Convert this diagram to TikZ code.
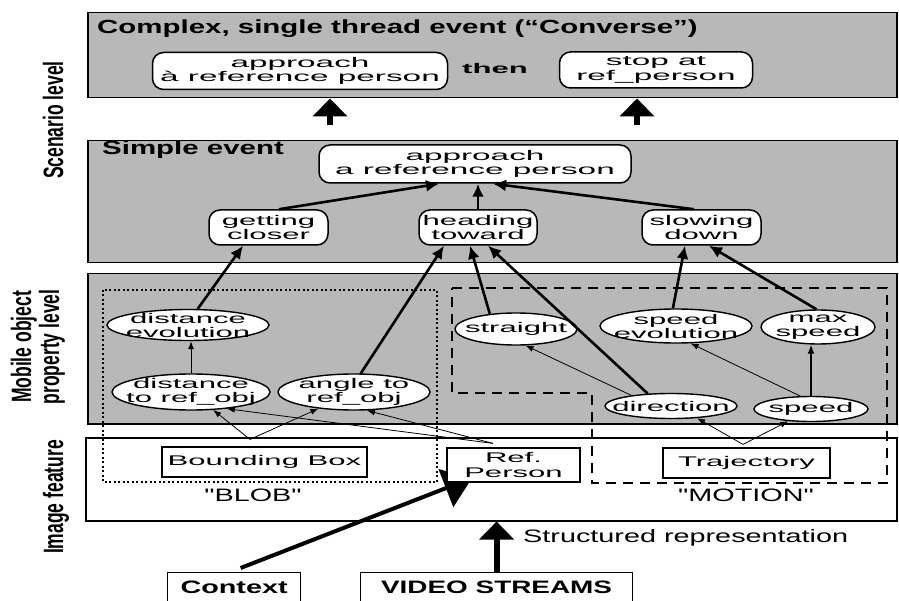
\documentclass[tikz,border=0pt]{standalone}
\usepackage{fontspec}
\setmainfont{Liberation Sans}
\usetikzlibrary{arrows.meta,shapes.geometric}
\newcommand\Wd[1]{\scalebox{2.22}[1]{#1}}
\newcommand\Wa[1]{\scalebox{2.38}[1]{#1}}
\newcommand\Wt[1]{\scalebox{1.55}[1]{#1}}
\newcommand\Wm[1]{\scalebox{1.6}[1]{#1}}
\newcommand\Wl[1]{\scalebox{1}[1.6]{#1}}
\tikzset{
  panel/.style={draw=black, line width=1.5pt, fill=black!28, inner sep=0pt, anchor=north west},
  wpanel/.style={draw=black, line width=1.5pt, fill=white, inner sep=0pt, anchor=north west},
  rbox/.style={draw=black, line width=1.5pt, fill=white, rounded corners=11pt, inner sep=0pt, align=center, font=\fontsize{14}{14.5}\selectfont},
  sbox/.style={draw=black, line width=1.2pt, fill=white, inner sep=0pt, align=center, font=\fontsize{14}{14.5}\selectfont},
  oval/.style={draw=black, line width=1.4pt, fill=white, ellipse, inner sep=0pt},
  otext/.style={align=center, inner sep=0pt, font=\fontsize{14}{14}\selectfont},
  heavyedge/.style={line width=2.6pt, -{Latex[length=13pt,width=12pt]}},
  thinedge/.style={line width=0.8pt, -{Latex[length=8pt,width=6pt]}},
  midedge/.style={line width=1.4pt, -{Latex[length=9pt,width=7pt]}},
  uparrow/.style={line width=6pt, -{Triangle[length=18pt,width=34pt]}},
  ctxarrow/.style={line width=4pt, -{Triangle[length=28pt,width=40pt]}},
  lvl/.style={rotate=90, font=\fontsize{17.5}{18}\selectfont\bfseries, inner sep=0pt},
  ttl/.style={font=\fontsize{19}{19}\selectfont\bfseries, inner sep=0pt, anchor=base west},
  grp/.style={font=\fontsize{18}{18}\selectfont, inner sep=0pt},
  blobline/.style={line width=2pt, dash pattern=on 2pt off 2.5pt},
  motionline/.style={line width=2pt, dash pattern=on 10pt off 7pt},
}
\begin{document}
\begin{tikzpicture}[x=1pt,y=-1pt]
\useasboundingbox (0,0) rectangle (899,601);
\clip (0,0) rectangle (899,601);
\fill[white] (0,0) rectangle (899,601);

% panels
\node[panel, minimum width=809pt, minimum height=85pt] (p1) at (87,12) {};
\node[panel, minimum width=809pt, minimum height=122pt] (p2) at (87,140) {};
\node[panel, minimum width=809pt, minimum height=150pt] (p3) at (87,273) {};
\node[wpanel, minimum width=811pt, minimum height=83pt] (p4) at (85,437) {};

% level labels
\node[lvl] (lscen) at (53,120) {\Wl{Scenario level}};
\node[lvl] (lmob1) at (24,347) {\Wl{Mobile object}};
\node[lvl] (lmob2) at (52,347) {\Wl{property level}};
\node[lvl] (limg) at (56,497) {\Wl{Image feature}};

% group outlines
\draw[blobline] (103,290) rectangle (437,482);
\draw[motionline] (452,288) -- (887,288) -- (887,483) -- (592,483) -- (592,393) -- (452,393) -- cycle;

% scenario level
\node[ttl] (title) at (97,34) {\Wt{Complex, single thread event (“Converse”)}};
\node[rbox, minimum width=295pt, minimum height=37pt] (a1) at (300,71) {\Wa{approach}\\\Wa{à reference person}};
\node[font=\fontsize{14}{14}\selectfont\bfseries, inner sep=0pt] (then) at (495,69) {\Wd{then}};
\node[rbox, minimum width=193pt, minimum height=36pt] (a2) at (656,70) {\Wa{stop at}\\\Wa{ref\_person}};
\coordinate (u1) at (330,0);
\coordinate (u2) at (637,0);
\draw[uparrow] ([yshift=15pt]p2.north -| u1) -- (p1.south -| u1);
\draw[uparrow] ([yshift=15pt]p2.north -| u2) -- (p1.south -| u2);

% simple event
\node[ttl] (simple) at (102,155) {\Wt{Simple event}};
\node[rbox, minimum width=312pt, minimum height=38pt] (b0) at (475,164) {\Wa{approach}\\\Wa{a reference person}};
\node[rbox, minimum width=119pt, minimum height=35pt] (b1) at (268.5,227.5) {\Wd{getting}\\\Wd{closer}};
\node[rbox, minimum width=118pt, minimum height=35pt] (b2) at (478,227.5) {\Wd{heading}\\\Wd{toward}};
\node[rbox, minimum width=119pt, minimum height=35pt] (b3) at (701.5,227.5) {\Wd{slowing}\\\Wd{down}};

% mobile object properties
\node[oval, minimum width=162pt, minimum height=31pt] (devo) at (188,325) {};
\node[otext] (devo-t) at (devo.center) {\Wd{distance}\\\Wd{evolution}};
\node[oval, minimum width=158pt, minimum height=36pt] (dist) at (191,392) {};
\node[otext] (dist-t) at (dist.center) {\Wd{distance}\\\Wd{to ref\_obj}};
\node[oval, minimum width=152pt, minimum height=36pt] (ang) at (354,392) {};
\node[otext] (ang-t) at (ang.center) {\Wd{angle to}\\\Wd{ref\_obj}};
\node[oval, minimum width=122pt, minimum height=32pt] (str) at (516,329) {};
\node[otext] (str-t) at (str.center) {\Wd{straight}};
\node[oval, minimum width=152pt, minimum height=34pt] (spev) at (676,326) {};
\node[otext] (spev-t) at (spev.center) {\Wd{speed}\\\Wd{evolution}};
\node[oval, minimum width=114pt, minimum height=34pt] (maxs) at (818,327) {};
\node[otext] (maxs-t) at (maxs.center) {\Wd{max}\\\Wd{speed}};
\node[oval, minimum width=132pt, minimum height=25pt] (dir) at (671,406) {};
\node[otext] (dir-t) at (dir.center) {\Wd{direction}};
\node[oval, minimum width=114pt, minimum height=25pt] (spd) at (811,409) {};
\node[otext] (spd-t) at (spd.center) {\Wd{speed}};

% image features
\node[sbox, minimum width=133pt, minimum height=30pt, anchor=north west] (ctx) at (167,572) {\fontsize{18}{18}\selectfont\bfseries\Wm{Context}};
\node[sbox, minimum width=272pt, minimum height=30pt, anchor=north west] (video) at (360,572) {\fontsize{18}{18}\selectfont\bfseries\scalebox{1.55}[1]{VIDEO STREAMS}};
\coordinate (refend) at (472,478);
\draw[ctxarrow] ([xshift=6.5pt,yshift=4pt]ctx.north) -- (refend);
\node[sbox, minimum width=205pt, minimum height=30pt] (bb) at (264.5,462) {\Wd{Bounding Box}};
\node[sbox, minimum width=133pt, minimum height=34pt] (ref) at (513.5,465) {\Wd{Ref.}\\\Wd{Person}};
\node[sbox, minimum width=167pt, minimum height=30pt] (traj) at (746.5,463) {\Wd{Trajectory}};
\node[grp] (blob) at (253,495) {\Wm{\textquotedbl BLOB\textquotedbl}};
\node[grp] (motion) at (746,495) {\Wm{\textquotedbl MOTION\textquotedbl}};
\draw[uparrow] (video.north) -- (video.north |- p4.south);
\node[grp, anchor=west] (struct) at (523,538) {\Wm{Structured representation}};

% heavy connectors
\draw[heavyedge] (devo.59) -- ([xshift=-25.5pt]b1.south);
\draw[heavyedge] (ang.70) -- ([xshift=-34pt]b2.south);
\draw[heavyedge] (str.150) -- ([xshift=-8pt]b2.south);
\draw[heavyedge] (dir.152) -- ([xshift=10pt]b2.south);
\draw[heavyedge] (spev.100) -- ([xshift=-16.5pt]b3.south);
\draw[heavyedge] (maxs.95) -- ([xshift=7.5pt]b3.south);
\draw[heavyedge] ([xshift=10.5pt]b1.north) -- ([xshift=-36pt]b0.south);
\draw[heavyedge] (b2.north) -- (b2.north |- b0.south);
\draw[heavyedge] ([xshift=-7.5pt]b3.north) -- ([xshift=18pt]b0.south);

% thin connectors
\draw[thinedge] (dist.north) -- (dist.north |- devo.south);
\draw[thinedge] ([xshift=-14.5pt,yshift=7pt]bb.north) -- (dist.-39);
\draw[thinedge] ([xshift=-14.5pt,yshift=7pt]bb.north) -- (ang.-155);
\draw[thinedge] ([xshift=-20.5pt,yshift=4pt]ref.north) -- (dist.-25);
\draw[thinedge] ([xshift=-20.5pt,yshift=4pt]ref.north) -- (ang.-55);
\draw[thinedge] (dir.165) -- (str.-60);
\draw[thinedge] (spd.130) -- (spev.-50);
\draw[midedge] (spd.north) -- (spd.north |- maxs.south);
\draw[thinedge] ([xshift=-3.5pt,yshift=3pt]traj.north) -- (dir.-25);
\draw[thinedge] ([xshift=-3.5pt,yshift=3pt]traj.north) -- (spd.-152);
\end{tikzpicture}
\end{document}
